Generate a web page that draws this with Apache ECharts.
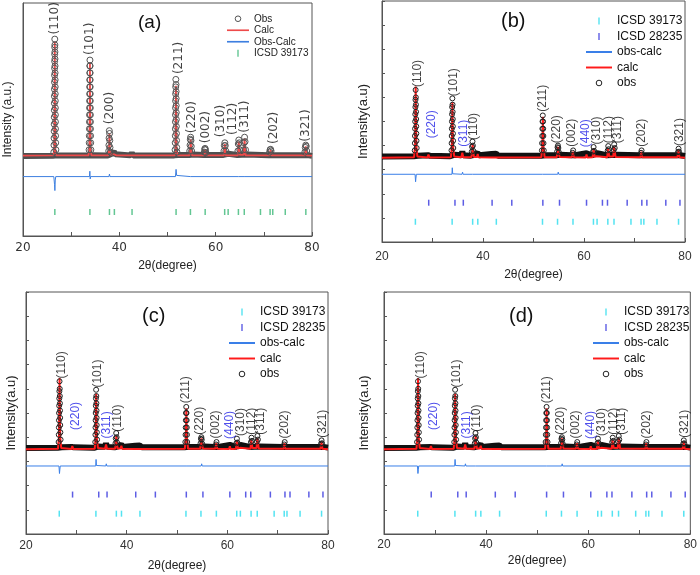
<!DOCTYPE html>
<html>
<head>
<meta charset="utf-8">
<title>XRD Rietveld fits</title>
<script src="https://cdn.jsdelivr.net/npm/echarts@6/dist/echarts.min.js"></script>
<style>
html,body{margin:0;padding:0;background:#fff;}
#main{width:700px;height:575px;}
</style>
</head>
<body>
<div id="main"></div>
<script>
// reflection positions (2theta)
var icsd39173 = [26.61, 33.89, 37.95, 38.97, 42.64, 51.78, 54.76, 57.82, 61.87, 62.59, 64.72, 65.94, 69.3, 71.3, 71.85, 74.45, 78.72];
var icsd28235 = [29.25, 34.45, 36.1, 41.8, 45.7, 51.85, 55.15, 60.5, 63.65, 64.65, 68.55, 71.45, 72.45, 76.2, 79.0];

// ---- panel (a) ----
var obsBandA = [[20,34.3],[26.2,34.4],[27.1,34.6],[33.5,34.5],[34.4,34.7],[37.6,34.6],[38.3,35.2],[38.9,36.1],[39.2,35.1],[42.3,34.6],[42.6,35.6],[42.9,34.6],
  [51.4,34.6],[52.2,34.8],[54.5,34.8],[55.2,35],[57.5,34.8],[58.1,34.8],[61.6,34.8],[62.6,35.3],[64.5,34.8],[66.4,35],[71.1,34.7],[71.7,34.7],[78.4,34.7],[79.1,34.7],[80,34.4]];
var obsPeaksA = [
  [26.40,36],[26.43,39],[26.45,42],[26.47,45],[26.48,48],[26.49,51],[26.50,54],[26.51,57],[26.52,60],[26.53,63],[26.54,66],[26.55,69],[26.56,72],[26.57,75],[26.58,78],[26.59,81],[26.60,84.5],
  [26.62,82],[26.63,79],[26.64,76],[26.65,73],[26.66,70],[26.67,67],[26.68,64],[26.69,61],[26.70,58],[26.71,55],[26.72,52],[26.73,49],[26.74,46],[26.76,43],[26.78,40],[26.82,37],
  [33.72,37],[33.75,40],[33.77,43],[33.79,46],[33.80,49],[33.81,52],[33.82,55],[33.83,58],[33.84,61],[33.85,64],[33.86,67],[33.87,70],[33.88,73],[33.90,75.5],
  [33.92,73],[33.93,70],[33.94,67],[33.95,64],[33.96,61],[33.97,58],[33.98,55],[33.99,52],[34.00,49],[34.01,46],[34.03,43],[34.05,40],[34.09,37],
  [37.80,36.5],[37.84,39],[37.87,42],[37.92,45.2],[37.98,44],[38.02,41],[38.06,38],[38.12,36],
  [51.57,37],[51.60,40],[51.62,43],[51.64,46],[51.65,49],[51.66,52],[51.67,55],[51.68,58],[51.69,61],[51.70,64],[51.73,67.2],
  [51.77,65],[51.79,62],[51.80,59],[51.81,56],[51.82,53],[51.83,50],[51.84,47],[51.86,44],[51.88,41],[51.91,38],[51.96,36],
  [54.62,36.5],[54.68,39],[54.74,41.5],[54.80,42.4],[54.87,41],[54.93,38.5],[55.0,36.5],
  [57.65,36],[57.72,37.2],[57.80,37.6],[57.88,37],[57.96,35.8],
  [61.72,36.5],[61.80,38.8],[61.90,40],[62.00,38.8],[62.10,36.5],
  [64.62,36.5],[64.70,39.5],[64.80,41.2],[64.90,40],[65.00,37],
  [65.82,37],[65.90,40],[66.00,42.4],[66.10,40.5],[66.20,37],
  [71.20,36],[71.30,37],[71.40,37.2],[71.50,36.5],
  [78.52,36],[78.60,38],[78.70,39],[78.80,38.5],[78.90,36.5]
];
var calcA = [[20,34.5],[26.3,34.6],[26.48,37],[26.57,60],[26.6,83.5],[26.63,60],[26.72,37],[26.9,34.6],
  [33.6,34.6],[33.8,38],[33.87,55],[33.9,74.5],[33.93,55],[34.0,38],[34.2,34.6],
  [37.7,34.6],[37.87,37],[37.95,44],[38.03,37],[38.2,34.8],[38.8,35.2],[38.95,36],[39.1,35.2],[39.4,34.6],
  [42.4,34.6],[42.6,35.3],[42.8,34.6],
  [51.5,34.6],[51.67,38],[51.73,52],[51.76,64.5],[51.79,52],[51.86,38],[52.1,34.6],
  [54.55,34.6],[54.74,38],[54.82,41.5],[54.9,38],[55.1,34.6],
  [57.6,34.6],[57.8,37.2],[58.0,34.6],
  [61.7,34.6],[61.9,39.5],[62.1,34.6],[62.5,35],[62.7,34.6],
  [64.6,34.6],[64.8,40.5],[65.0,34.8],[65.8,34.8],[66.0,41.8],[66.2,34.6],
  [71.2,34.6],[71.4,37],[71.6,34.6],
  [78.5,34.6],[78.7,38.5],[78.9,34.6],[80,34.5]];
var diffA = [[20,25.5],[26.4,25.5],[26.55,22],[26.62,19.5],[26.7,24],[26.8,25.5],[33.8,25.5],[33.88,27.8],[33.95,24.5],[34.05,25.5],
  [37.85,25.5],[37.95,26.6],[38.05,25.5],[51.65,25.5],[51.78,28.6],[51.9,26],[52.0,25.5],[54.75,25.5],[54.82,26.2],[54.9,25.5],
  [64.7,25.5],[64.8,25.9],[64.9,25.5],[65.9,25.5],[66.0,26],[66.1,25.5],[80,25.5]];
var hklA = ['(110)','(101)','(200)','(211)','(220)','(002)','(310)','(112)','(311)','(202)','(321)'];
var hklPosA = [[26.6,86.5],[33.8,77.7],[38.05,48],[52.3,69.5],[55.0,44.1],[57.9,39.8],[61.0,42.4],[63.6,43.3],[66.1,44.3],[72.1,39.5],[78.65,40.5]];
var tickLevelA = 10.3;

// ---- panels (b), (c), (d) ----
var obsBandB = [[20,35.5],[26.3,35.6],[27.1,35.8],[29.1,36],[29.3,36.5],[29.5,35.8],[33.5,35.6],[34.4,36.2],[35.7,36],[35.9,37.5],[36.1,36],
  [37.6,35.8],[38.3,36.2],[38.9,37],[39.2,36],[41.7,36.5],[42.6,36.6],[43,35.8],[51.5,35.8],[52.3,36],[54.5,36],[55.3,36.2],[57.5,36],[58.2,36],
  [60.5,36.8],[61.6,36],[62.6,36.8],[64.5,36],[66.4,36.2],[71,36],[71.8,36],[78.3,36],[79.1,36],[80,35.7]];
var obsPeaksB = [
  [26.48,38],[26.51,41],[26.53,44],[26.55,47],[26.57,50],[26.59,53],[26.61,56],[26.63,59],[26.66,63.1],
  [26.70,60],[26.72,57],[26.74,54],[26.76,51],[26.78,48],[26.80,45],[26.83,42],[26.87,39],
  [33.76,38],[33.79,41],[33.81,44],[33.83,47],[33.85,50],[33.87,53],[33.89,56],[33.93,59.6],
  [33.97,57],[33.99,54],[34.01,51],[34.03,48],[34.05,45],[34.08,42],[34.12,39],
  [37.78,37.5],[37.84,39.5],[37.92,41.7],[38.0,40],[38.08,37.8],
  [51.66,38],[51.70,41],[51.73,44],[51.76,47],[51.79,50],[51.84,52.5],
  [51.89,50],[51.92,47],[51.95,44],[51.98,41],[52.03,38],
  [54.68,37.5],[54.76,39.3],[54.84,40],[54.92,39],[55.0,37.3],
  [57.75,37],[57.85,38],
  [61.8,37.5],[61.9,39.4],[62.0,37.8],
  [64.7,38],[64.8,39.8],[64.9,38.5],
  [65.88,38.2],[65.98,40.5],[66.08,39],
  [71.3,37],[71.4,38],
  [78.62,37.3],[78.72,38.7],[78.82,37.5]
];
var calcB = [[20,35],[26.35,35.2],[26.55,40],[26.64,58],[26.67,64.5],[26.7,58],[26.8,40],[27.0,35.5],[27.3,35.1],
  [29.0,35.1],[29.2,36.3],[29.4,35.1],
  [33.65,35.2],[33.84,40],[33.91,52],[33.94,58],[33.97,52],[34.05,40],[34.3,35.5],[34.6,35.2],
  [35.7,35.2],[35.9,37],[36.1,35.2],
  [37.7,35.2],[37.87,38],[37.95,40.5],[38.03,38],[38.2,35.3],[38.8,35.3],[38.95,36.5],[39.1,35.2],
  [41.6,35.1],[41.75,35.9],[41.9,35.1],[42.5,35.1],[42.65,35.8],[42.8,35.1],
  [51.55,35.2],[51.76,40],[51.83,48],[51.86,52],[51.89,48],[51.96,40],[52.2,35.2],
  [54.6,35.2],[54.77,38],[54.85,39.5],[54.93,38],[55.15,35.3],
  [57.6,35.2],[57.8,37.5],[58.0,35.2],
  [60.35,35.1],[60.5,36.3],[60.65,35.1],
  [61.7,35.2],[61.9,38.8],[62.1,35.3],[62.5,35.6],[62.7,35.2],
  [64.6,35.2],[64.75,38.8],[64.85,39.2],[65.0,35.5],[65.8,35.5],[65.95,39.6],[66.05,39.8],[66.25,35.3],
  [71.2,35.2],[71.35,37.5],[71.5,35.2],
  [78.5,35.2],[78.7,38.2],[78.9,35.2],[80,35]];
var diffB = [[20,28.1],[26.55,28.1],[26.65,25],[26.72,26.5],[26.8,28.1],[33.85,28.1],[33.92,30.8],[34.0,28.3],[35.85,28.1],[35.95,29],[36.05,28.1],
  [37.9,28.1],[38.0,28.7],[38.1,28.1],[51.8,28.1],[51.88,28.8],[51.95,28.1],[54.8,28.1],[54.9,29],[55.0,28.1],[80,28.1]];
var hklB = ['(110)','(220)','(101)','(311)','(110)','(211)','(220)','(002)','(440)','(310)','(112)','(311)','(202)','(321)'];
var hklPosB = [[27.1,64.3],[29.8,43],[34.2,60.5],[36.1,39.5],[38.2,42.3],[51.8,54],[54.6,41],[57.6,39.5],[60.4,39.3],[62.6,40.5],[64.9,41],[66.6,41],[71.4,39.5],[78.9,39.8]];
var hklBlueB = [false,true,false,true,false,false,false,false,true,false,false,false,false,false];
var tickLevel39173 = 8.4;
var tickLevel28235 = 16.3;

var FONT = '"Liberation Sans", Arial, sans-serif';
var FONT_A = '"DejaVu Sans", sans-serif';
var TICK_ICON = 'path://M0,0h2v10h-2z';
var LINE_ICON = 'path://M0,0h40v3h-40z';

var grids = [
  {left:23, top:3, width:289, height:233},
  {left:382, top:1, width:303, height:241},
  {left:26, top:292, width:302, height:242},
  {left:384, top:292, width:310, height:242}
];
grids.forEach(function(g){ g.show = true; g.borderColor = '#555'; g.borderWidth = 1; });

function xAxisFor(i, font, size, margin, gap){
  return {gridIndex:i, type:'value', min:20, max:80, interval:10,
    name:'2θ(degree)', nameLocation:'middle', nameGap:gap,
    nameTextStyle:{fontFamily:FONT, fontSize:12, color:'#222'},
    axisLine:{lineStyle:{color:'#555', width:1}},
    axisTick:{inside:true, length:4, lineStyle:{color:'#555'}},
    axisLabel:{fontFamily:font, fontSize:size, color:'#333', margin:margin,
      formatter:function(v){ return v % 20 === 0 ? String(v) : ''; }},
    splitLine:{show:false}};
}
function yAxisFor(i, name, gap, ticks, size){
  return {gridIndex:i, type:'value', min:0, max:100, interval:10,
    name:name, nameLocation:'middle', nameGap:gap,
    nameTextStyle:{fontFamily:FONT, fontSize:size, color:'#222'},
    axisLine:{lineStyle:{color:'#555', width:1}},
    axisTick:{show:ticks, inside:true, length:3, lineStyle:{color:'#555'}},
    axisLabel:{show:false}, splitLine:{show:false}};
}

function lineSeries(name, idx, data, color, width, z){
  return {name:name, type:'line', xAxisIndex:idx, yAxisIndex:idx, data:data, symbol:'none',
    lineStyle:{color:color, width:width}, itemStyle:{color:color}, z:z, silent:true};
}
// observed points sit above the calc curve so the hollow circles stay visible
function obsSeries(name, idx, data, color, size){
  return {name:name, type:'line', xAxisIndex:idx, yAxisIndex:idx, data:data, symbol:'circle', symbolSize:size,
    showAllSymbol:true, lineStyle:{width:0},
    itemStyle:{color:'rgba(0,0,0,0)', borderColor:color, borderWidth:1}, z:6, silent:true};
}
function tickSeries(name, idx, pos, level, color){
  return {name:name, type:'scatter', xAxisIndex:idx, yAxisIndex:idx,
    data:pos.map(function(x){ return [x, level]; }),
    symbol:'rect', symbolSize:[1.5, 6], itemStyle:{color:color}, z:4, silent:true};
}
function hklSeries(idx, names, pos, blue, font, size){
  return {type:'scatter', xAxisIndex:idx, yAxisIndex:idx, symbolSize:0, z:7, silent:true,
    data:names.map(function(t, k){
      return {name:t, value:pos[k], label:{color: blue && blue[k] ? '#2323e6' : '#111'}};
    }),
    label:{show:true, formatter:'{b}', position:'inside', rotate:90, align:'left', verticalAlign:'middle',
      fontFamily:font, fontSize:size}};
}

var series = [
  lineSeries('obsbandA', 0, obsBandA, '#4f4f4f', 6, 2),
  obsSeries('Obs', 0, obsPeaksA, '#555', 6),
  lineSeries('Calc', 0, calcA, '#ee4a4a', 1.8, 5),
  lineSeries('Obs-Calc', 0, diffA, '#3d7fe0', 1, 5),
  tickSeries('ICSD 39173', 0, icsd39173, tickLevelA, '#3cb878'),
  hklSeries(0, hklA, hklPosA, null, FONT_A, 12)
];
[1, 2, 3].forEach(function(i){
  series.push(
    lineSeries('obsband', i, obsBandB, '#111', 6, 2),
    obsSeries('obs', i, obsPeaksB, '#222', 5),
    lineSeries('calc', i, calcB, '#ff1a1a', 2, 5),
    lineSeries('obs-calc', i, diffB, '#3a7fe8', 1, 5),
    tickSeries('ICSD 28235', i, icsd28235, tickLevel28235, '#3535dd'),
    tickSeries('ICSD 39173 ', i, icsd39173, tickLevel39173, '#29dced'),
    hklSeries(i, hklB, hklPosB, hklBlueB, FONT, 12)
  );
});

function legendBCD(left, top){
  return {orient:'vertical', left:left, top:top, itemWidth:26, itemHeight:7, itemGap:3.5,
    selectedMode:false, symbolKeepAspect:true,
    textStyle:{fontFamily:FONT, fontSize:12, lineHeight:12, color:'#111'},
    formatter:function(n){ return n.trim(); },
    data:[
      {name:'ICSD 39173 ', icon:TICK_ICON},
      {name:'ICSD 28235', icon:TICK_ICON},
      {name:'obs-calc', icon:LINE_ICON},
      {name:'calc', icon:LINE_ICON},
      {name:'obs', itemStyle:{color:'rgba(0,0,0,0)', borderColor:'#222', borderWidth:1}}
    ]};
}

var option = {
  animation:false,
  backgroundColor:'#fff',
  title:[
    {text:'(a)', left:133, top:8, textStyle:{fontFamily:FONT, fontSize:19, fontWeight:'normal', color:'#111'}},
    {text:'(b)', left:496, top:6, textStyle:{fontFamily:FONT, fontSize:20, fontWeight:'normal', color:'#111'}},
    {text:'(c)', left:137, top:301, textStyle:{fontFamily:FONT, fontSize:20, fontWeight:'normal', color:'#111'}},
    {text:'(d)', left:504, top:301, textStyle:{fontFamily:FONT, fontSize:20, fontWeight:'normal', color:'#111'}}
  ],
  legend:[
    {orient:'vertical', left:222, top:8, itemWidth:22, itemHeight:7, itemGap:0,
      selectedMode:false, symbolKeepAspect:true,
      textStyle:{fontFamily:FONT, fontSize:10, lineHeight:11.5, color:'#222'},
      data:[
        {name:'Obs', itemStyle:{color:'rgba(0,0,0,0)', borderColor:'#555', borderWidth:1}},
        {name:'Calc', icon:LINE_ICON},
        {name:'Obs-Calc', icon:LINE_ICON},
        {name:'ICSD 39173', icon:TICK_ICON}
      ]},
    legendBCD(581, 10),
    legendBCD(224, 301),
    legendBCD(588, 301)
  ],
  grid:grids,
  xAxis:[
    xAxisFor(0, FONT_A, 12, 6, 24),
    xAxisFor(1, FONT, 12, 9, 27),
    xAxisFor(2, FONT, 12, 6, 26),
    xAxisFor(3, FONT, 12, 5, 21)
  ],
  yAxis:[
    yAxisFor(0, 'Intensity (a.u.)', 9, false, 12),
    yAxisFor(1, 'Intensity(a.u)', 12, true, 13),
    yAxisFor(2, 'Intensity(a.u)', 8, true, 13),
    yAxisFor(3, 'Intensity(a.u)', 13, true, 13)
  ],
  series:series
};

var chart = echarts.init(document.getElementById('main'));
chart.setOption(option);
</script>
</body>
</html>
